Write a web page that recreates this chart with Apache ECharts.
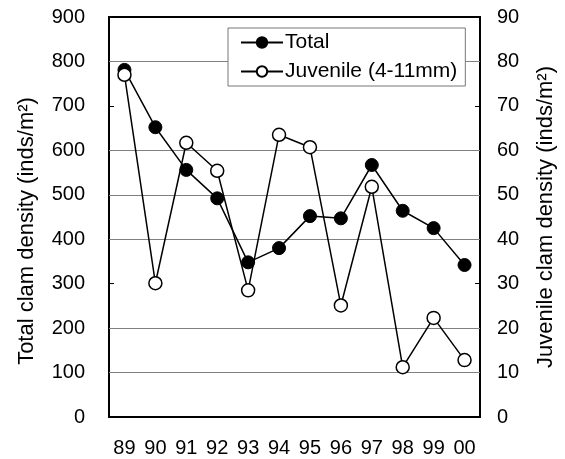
<!DOCTYPE html>
<html>
<head>
<meta charset="utf-8">
<script src="https://cdn.jsdelivr.net/npm/echarts@6/dist/echarts.min.js"></script>
<style>
    html, body { margin: 0; padding: 0; background: #fff; }
    #main { width: 565px; height: 459px; }
</style>
</head>
<body>
<div id="main"></div>
<script>
// years on the x axis
var years = ['89', '90', '91', '92', '93', '94', '95', '96', '97', '98', '99', '00'];
// total clam density (inds/m2), left axis
var totalDensity = [781, 652, 556, 492, 348, 380, 452, 447, 567, 464, 425, 342];
// juvenile clam density (inds/m2), right axis
var juvenileDensity = [77.0, 30.1, 61.7, 55.4, 28.5, 63.5, 60.7, 25.1, 51.8, 11.2, 22.3, 12.8];
// gridlines drawn in the original figure (left axis values)
var gridValues = [100, 200, 400, 500, 600, 800];

var myChart = echarts.init(document.getElementById('main'));

var fontFamily = 'Liberation Sans, Arial, sans-serif';
var labelFont = { color: '#000', fontSize: 20, fontFamily: fontFamily };
var nameFont = { color: '#000', fontSize: 22, fontFamily: fontFamily };

option = {
    animation: false,
    backgroundColor: '#fff',
    grid: {
        left: 109,
        right: 79,
        top: 17,
        bottom: 42,
        show: true,
        borderColor: '#000',
        borderWidth: 2,
        backgroundColor: 'transparent'
    },
    legend: {
        orient: 'vertical',
        left: 228,
        top: 28,
        padding: [4, 8, 4, 12],
        itemGap: 8,
        itemWidth: 42,
        itemHeight: 13,
        borderColor: '#777',
        borderWidth: 1,
        backgroundColor: '#fff',
        textStyle: { color: '#000', fontSize: 21, fontFamily: fontFamily, padding: [0, 0, 0, -3] },
        data: ['Total', 'Juvenile (4-11mm)']
    },
    xAxis: {
        type: 'category',
        data: years,
        boundaryGap: true,
        axisLine: { lineStyle: { color: '#000', width: 2 } },
        axisTick: { inside: true, length: 5, lineStyle: { color: '#000' } },
        axisLabel: Object.assign({ margin: 21 }, labelFont)
    },
    yAxis: [
        {
            type: 'value',
            min: 0,
            max: 900,
            interval: 100,
            name: 'Total clam density (inds/m²)',
            nameLocation: 'middle',
            nameGap: 71,
            // the original title sits a bit below the middle of the axis
            nameTextStyle: Object.assign({ padding: [0, 28, 0, 0] }, nameFont),
            axisLine: { show: true, lineStyle: { color: '#000', width: 2 } },
            axisTick: { show: true, inside: true, length: 5, lineStyle: { color: '#000' } },
            axisLabel: Object.assign({ margin: 24 }, labelFont),
            splitLine: { show: false }
        },
        {
            type: 'value',
            min: 0,
            max: 90,
            interval: 10,
            name: 'Juvenile clam density (inds/m²)',
            nameLocation: 'middle',
            nameGap: 55,
            nameRotate: 90,
            nameTextStyle: nameFont,
            axisLine: { show: true, lineStyle: { color: '#000', width: 2 } },
            axisTick: { show: true, inside: true, length: 5, lineStyle: { color: '#000' } },
            axisLabel: Object.assign({ margin: 17 }, labelFont),
            splitLine: { show: false }
        }
    ],
    series: [
        {
            name: 'Total',
            type: 'line',
            yAxisIndex: 0,
            data: totalDensity,
            symbol: 'circle',
            symbolSize: 13,
            lineStyle: { color: '#000', width: 1.5 },
            itemStyle: { color: '#000', borderColor: '#000', borderWidth: 1 },
            z: 3,
            markLine: {
                silent: true,
                symbol: 'none',
                label: { show: false },
                lineStyle: { color: '#808080', width: 1, type: 'solid' },
                data: gridValues.map(function (v) { return { yAxis: v }; }),
                z: 1
            }
        },
        {
            name: 'Juvenile (4-11mm)',
            type: 'line',
            yAxisIndex: 1,
            data: juvenileDensity,
            symbol: 'circle',
            symbolSize: 13,
            lineStyle: { color: '#000', width: 1.5 },
            itemStyle: { color: '#fff', borderColor: '#000', borderWidth: 1.5 },
            z: 4
        }
    ]
};

myChart.setOption(option);
</script>
</body>
</html>
